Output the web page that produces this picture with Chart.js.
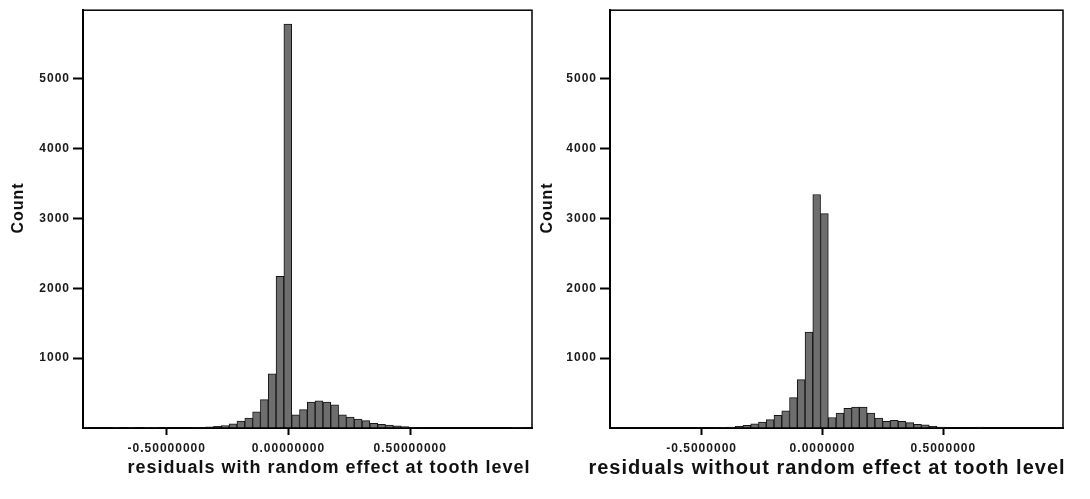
<!DOCTYPE html>
<html><head><meta charset="utf-8">
<script src="https://cdn.jsdelivr.net/npm/chart.js@4.4.0/dist/chart.umd.min.js"></script>
<style>
html,body{margin:0;padding:0;background:#fff;}
#wrap{position:relative;width:1090px;height:499px;overflow:hidden;background:#fff;}
#c1{position:absolute;left:0;top:0;}
#c2{position:absolute;left:536px;top:0;}
</style></head><body>
<div id="wrap"><canvas id="c1" width="536" height="499"></canvas><canvas id="c2" width="554" height="499"></canvas></div>
<script>
// ---- data ----
const leftBinCenters = [-0.8376,-0.8055,-0.7734,-0.7413,-0.7092,-0.6771,-0.6450,-0.6129,-0.5808,-0.5487,-0.5166,-0.4845,-0.4524,-0.4203,-0.3882,-0.3561,-0.3240,-0.2919,-0.2598,-0.2277,-0.1956,-0.1635,-0.1314,-0.0993,-0.0672,-0.0351,-0.0030,0.0291,0.0612,0.0933,0.1254,0.1575,0.1896,0.2217,0.2538,0.2859,0.3180,0.3501,0.3822,0.4143,0.4464,0.4785,0.5106,0.5427,0.5748,0.6069,0.6390,0.6711,0.7032,0.7353,0.7674,0.7995,0.8316,0.8637,0.8958,0.9279,0.9600,0.9921];
const leftCounts = [8,2,2,3,10,3,10,3,10,10,3,3,3,4,5,8,15,25,36,60,100,143,232,405,775,2170,5780,190,262,370,390,370,330,190,155,129,105,68,52,43,30,20,8,5,4,3,3,3,2,2,2,2,2,2,2,8,8,2];
const rightBinCenters = [-0.8586,-0.8265,-0.7944,-0.7623,-0.7302,-0.6981,-0.6660,-0.6339,-0.6018,-0.5697,-0.5376,-0.5055,-0.4734,-0.4413,-0.4092,-0.3771,-0.3450,-0.3129,-0.2808,-0.2487,-0.2166,-0.1845,-0.1524,-0.1203,-0.0882,-0.0561,-0.0240,0.0081,0.0402,0.0723,0.1044,0.1365,0.1686,0.2007,0.2328,0.2649,0.2970,0.3291,0.3612,0.3933,0.4254,0.4575,0.4896,0.5217,0.5538,0.5859,0.6180,0.6501,0.6822,0.7143,0.7464,0.7785,0.8106,0.8427,0.8748,0.9069,0.9390,0.9711];
const rightCounts = [2,2,2,2,2,2,2,2,2,2,2,3,4,6,8,14,24,38,58,85,120,180,245,435,692,1373,3342,3068,150,213,280,298,298,215,142,95,109,95,78,52,47,24,14,6,3,3,3,14,3,2,2,2,2,2,2,2,2,2];
const yTickValues = [1000, 2000, 3000, 4000, 5000];
const xTickValues = [-0.5, 0, 0.5];
const leftXTickLabels = ['-0.50000000', '0.00000000', '0.50000000'];
const rightXTickLabels = ['-0.5000000', '0.0000000', '0.5000000'];
const yTitle = 'Count';
const leftXTitle = 'residuals with random effect at tooth level';
const rightXTitle = 'residuals without random effect at tooth level';

// ---- drawing ----
const FONT = '"Liberation Sans", Arial, sans-serif';
const framePlugin = {
  id: 'frame',
  beforeDraw(chart) { chart.ctx.letterSpacing = '1px'; },
  afterDraw(chart, args, o) {
    const ctx = chart.ctx, a = chart.chartArea;
    ctx.save();
    ctx.strokeStyle = '#000'; ctx.lineWidth = 1.5;
    ctx.strokeRect(a.left, a.top, a.right - a.left, a.bottom - a.top);
    ctx.fillStyle = '#111';
    ctx.textAlign = 'center';
    ctx.textBaseline = 'alphabetic';
    ctx.font = 'bold ' + o.xTitleSize + 'px ' + FONT;
    ctx.fillText(o.xTitle, o.xTitleX, o.xTitleY);
    ctx.translate(o.yTitleX, o.yTitleY);
    ctx.rotate(-Math.PI / 2);
    ctx.textBaseline = 'middle';
    ctx.font = 'bold 16px ' + FONT;
    ctx.fillText(o.yTitle, 0, 0);
    ctx.restore();
  }
};

function makeChart(id, centers, counts, xLabels, cfg) {
  const tickFont = {family: FONT, size: 12, weight: 'bold'};
  return new Chart(document.getElementById(id), {
    type: 'bar',
    data: {
      datasets: [{
        data: centers.map((x, i) => ({x: x, y: counts[i]})),
        backgroundColor: '#6e6e6e',
        borderColor: '#151515',
        borderWidth: 1,
        barPercentage: 1,
        categoryPercentage: 1
      }]
    },
    options: {
      responsive: false,
      animation: false,
      layout: {padding: {top: cfg.top, right: cfg.right, left: 0, bottom: 0}},
      plugins: {
        legend: {display: false},
        tooltip: {enabled: false},
        frame: cfg.frame
      },
      scales: {
        x: {
          type: 'linear',
          offset: false,
          min: cfg.xmin, max: cfg.xmax,
          afterBuildTicks: s => { s.ticks = xTickValues.map(v => ({value: v})); },
          afterFit: s => { s.height = 71; },
          ticks: {
            autoSkip: false, maxRotation: 0, padding: 6,
            color: '#1a1a1a', font: tickFont,
            callback: v => xLabels[xTickValues.indexOf(v)]
          },
          grid: {offset: false, drawOnChartArea: false, drawTicks: true, tickLength: 7, tickWidth: 2, tickColor: '#000'},
          border: {display: true, color: '#000', width: 2}
        },
        y: {
          type: 'linear',
          min: 0, max: 5980,
          afterBuildTicks: s => { s.ticks = yTickValues.map(v => ({value: v})); },
          afterFit: s => { s.width = cfg.yWidth; },
          ticks: {padding: 3, color: '#1a1a1a', font: tickFont, callback: v => String(v)},
          grid: {drawOnChartArea: false, drawTicks: true, tickLength: 10, tickWidth: 2, tickColor: '#000'},
          border: {display: true, color: '#000', width: 2}
        }
      }
    },
    plugins: [framePlugin]
  });
}

makeChart('c1', leftBinCenters, leftCounts, leftXTickLabels, {
  top: 7, right: 4, yWidth: 83, xmin: -0.844, xmax: 1.0,
  frame: {xTitle: leftXTitle, xTitleSize: 18, xTitleX: 329, xTitleY: 473, yTitle: yTitle, yTitleX: 19, yTitleY: 208}
});
makeChart('c2', rightBinCenters, rightCounts, rightXTickLabels, {
  top: 5, right: 27, yWidth: 74, xmin: -0.879, xmax: 0.995,
  frame: {xTitle: rightXTitle, xTitleSize: 20, xTitleX: 291, xTitleY: 474, yTitle: yTitle, yTitleX: 12, yTitleY: 208}
});
</script>
</body></html>
